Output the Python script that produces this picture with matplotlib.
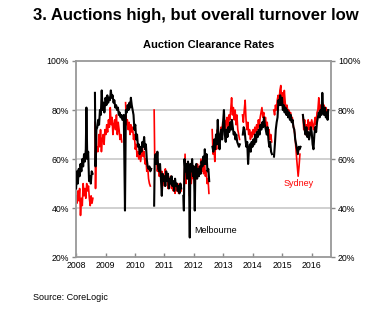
import numpy as np
import matplotlib
matplotlib.use('Agg')
import matplotlib.pyplot as plt

plt.rcParams['font.family'] = ['Liberation Sans', 'DejaVu Sans']

nan = np.nan

# Melbourne weekly clearance rate, NaN = holiday gap
mel_year = [2008.00, 2008.03, 2008.06, 2008.09, 2008.12, 2008.15, 2008.18, 2008.21, 2008.24, 2008.27,
            2008.30, 2008.33, 2008.35, 2008.38, 2008.41, 2008.44, 2008.47, 2008.50, 2008.53, 2008.56,
            2008.60,
            2008.64, 2008.66, 2008.69, 2008.72, 2008.75, 2008.78, 2008.81, 2008.84, 2008.87, 2008.90,
            2008.93, 2008.96, 2009.00, 2009.03, 2009.06, 2009.09, 2009.12, 2009.15, 2009.18, 2009.21,
            2009.24, 2009.27, 2009.30, 2009.33, 2009.36, 2009.39, 2009.42, 2009.45, 2009.48, 2009.51,
            2009.54, 2009.57, 2009.62, 2009.66, 2009.69, 2009.72, 2009.75, 2009.78, 2009.81, 2009.84,
            2009.86, 2009.89, 2009.92, 2009.95, 2009.98, 2010.01, 2010.04, 2010.07, 2010.10, 2010.13,
            2010.16, 2010.19, 2010.22, 2010.25, 2010.28, 2010.31, 2010.34, 2010.37, 2010.40, 2010.43,
            2010.46, 2010.49, 2010.52, 2010.55,
            2010.60,
            2010.65, 2010.67, 2010.70, 2010.73, 2010.76, 2010.79, 2010.82, 2010.85, 2010.88, 2010.91,
            2010.94, 2010.97, 2011.00, 2011.03, 2011.06, 2011.09, 2011.12, 2011.15, 2011.18, 2011.21,
            2011.24, 2011.27, 2011.30, 2011.33, 2011.36, 2011.39, 2011.42, 2011.45, 2011.48, 2011.51,
            2011.54, 2011.57,
            2011.61,
            2011.64, 2011.66, 2011.68, 2011.71, 2011.74, 2011.77, 2011.80, 2011.83, 2011.86, 2011.88,
            2011.91, 2011.94, 2011.97, 2012.00, 2012.03, 2012.05, 2012.08, 2012.11, 2012.14, 2012.17,
            2012.20, 2012.23, 2012.26, 2012.29, 2012.32, 2012.35, 2012.37, 2012.40, 2012.43, 2012.46,
            2012.49, 2012.52,
            2012.58,
            2012.63, 2012.66, 2012.69, 2012.72, 2012.75, 2012.78, 2012.81, 2012.84, 2012.87, 2012.90,
            2012.93, 2012.96, 2012.99, 2013.02, 2013.05, 2013.08, 2013.11, 2013.14, 2013.17, 2013.20,
            2013.23, 2013.26, 2013.29, 2013.32, 2013.35, 2013.38, 2013.41, 2013.44, 2013.47, 2013.50,
            2013.53, 2013.56,
            2013.62,
            2013.66, 2013.69, 2013.72, 2013.75, 2013.78, 2013.81, 2013.84, 2013.87, 2013.90, 2013.93,
            2013.96, 2013.99, 2014.02, 2014.05, 2014.08, 2014.11, 2014.14, 2014.17, 2014.20, 2014.23,
            2014.26, 2014.29, 2014.32, 2014.35, 2014.38, 2014.41, 2014.44, 2014.47, 2014.50, 2014.53,
            2014.56, 2014.59, 2014.62, 2014.65,
            2014.68,
            2014.72, 2014.75, 2014.78, 2014.81, 2014.84, 2014.87, 2014.90, 2014.93, 2014.96, 2014.99,
            2015.02, 2015.05, 2015.08, 2015.11, 2015.14, 2015.17, 2015.20, 2015.23, 2015.26, 2015.29,
            2015.32, 2015.35, 2015.38, 2015.41, 2015.44, 2015.47, 2015.50, 2015.53, 2015.56, 2015.59,
            2015.62,
            2015.66,
            2015.70, 2015.73, 2015.76, 2015.79, 2015.82, 2015.85, 2015.88, 2015.91, 2015.94, 2015.97,
            2016.00, 2016.03, 2016.06, 2016.09, 2016.12, 2016.15, 2016.18, 2016.21, 2016.24, 2016.27,
            2016.30, 2016.33, 2016.36, 2016.39, 2016.42, 2016.45, 2016.48, 2016.51, 2016.54, 2016.56]
mel_rate = [48, 55, 50, 56, 53, 58, 55, 60, 57, 62,
            59, 64, 81, 60, 63, 51, 53, 50, 55, 54,
            nan,
            87, 57, 72, 73, 76, 74, 80, 78, 88, 80,
            83, 79, 85, 82, 86, 83, 85, 84, 88, 85,
            86, 83, 84, 81, 82, 80, 81, 78, 79, 77,
            78, 76, 78, 39, 80, 79, 82, 80, 83, 81,
            85, 82, 80, 78, 72, 74, 68, 70, 65, 66,
            62, 65, 63, 67, 65, 69, 64, 66, 60, 57,
            56, 57, 55, 56,
            nan,
            41, 60, 62, 58, 63, 56, 55, 58, 52, 45,
            54, 51, 53, 49, 55, 51, 54, 48, 52, 50,
            53, 49, 51, 47, 52, 49, 50, 47, 49, 46,
            50, 48,
            nan,
            45, 39, 60, 55, 58, 52, 59, 56, 28, 58,
            55, 60, 53, 57, 39, 55, 58, 52, 56, 53,
            57, 54, 59, 57, 61, 58, 64, 58, 62, 55,
            56, 51,
            nan,
            65, 63, 68, 64, 70, 66, 76, 68, 64, 70,
            72, 68, 75, 80, 70, 67, 72, 69, 73, 71,
            75, 72, 76, 73, 70, 71, 68, 70, 67, 66,
            65, 66,
            nan,
            70, 73, 72, 68, 65, 67, 58, 64, 66, 63,
            67, 65, 68, 66, 70, 67, 71, 69, 72, 70,
            74, 72, 75, 73, 77, 74, 72, 70, 73, 68,
            65, 67, 63, 62,
            nan,
            61, 66, 72, 75, 77, 84, 82, 86, 82, 85,
            80, 82, 79, 81, 78, 80, 77, 79, 76, 78,
            75, 76, 73, 72, 68, 66, 64, 62, 65, 64,
            65,
            nan,
            78, 75, 72, 70, 73, 69, 71, 68, 70, 73,
            71, 66, 64, 70, 73, 71, 75, 77, 79, 77,
            80, 78, 87, 80, 78, 81, 77, 79, 76, 80]

# Sydney weekly clearance rate
syd_year = [2008.00, 2008.03, 2008.06, 2008.09, 2008.12, 2008.15, 2008.18, 2008.21, 2008.24, 2008.27,
            2008.30, 2008.33, 2008.36, 2008.39, 2008.42, 2008.45, 2008.48, 2008.51, 2008.54, 2008.57,
            2008.61,
            2008.64, 2008.66, 2008.68, 2008.71, 2008.74, 2008.77, 2008.80, 2008.83, 2008.86, 2008.89,
            2008.92, 2008.95, 2008.98, 2009.01, 2009.04, 2009.07, 2009.10, 2009.13, 2009.16, 2009.19,
            2009.22, 2009.25, 2009.28, 2009.31, 2009.34, 2009.37, 2009.40, 2009.43, 2009.46, 2009.49,
            2009.52, 2009.55,
            2009.60,
            2009.68, 2009.71, 2009.74, 2009.77, 2009.80, 2009.83, 2009.86, 2009.89, 2009.92, 2009.95,
            2009.98, 2010.01, 2010.04, 2010.07, 2010.10, 2010.13, 2010.16, 2010.19, 2010.22, 2010.25,
            2010.28, 2010.31, 2010.34, 2010.37, 2010.40, 2010.43, 2010.46, 2010.49, 2010.52,
            2010.58,
            2010.65, 2010.67, 2010.70, 2010.73, 2010.76, 2010.79, 2010.82, 2010.85, 2010.88, 2010.91,
            2010.94, 2010.97, 2011.00, 2011.03, 2011.06, 2011.09, 2011.12, 2011.15, 2011.18, 2011.21,
            2011.24, 2011.27, 2011.30, 2011.33, 2011.36, 2011.39, 2011.42, 2011.45, 2011.48, 2011.51,
            2011.54, 2011.57,
            2011.62,
            2011.66, 2011.70, 2011.73, 2011.76, 2011.79, 2011.82, 2011.85, 2011.88, 2011.91, 2011.94,
            2011.97, 2012.00, 2012.03, 2012.06, 2012.09, 2012.12, 2012.15, 2012.18, 2012.21, 2012.24,
            2012.27, 2012.30, 2012.33, 2012.36, 2012.39, 2012.42, 2012.45, 2012.48, 2012.51,
            2012.57,
            2012.62, 2012.65, 2012.68, 2012.71, 2012.74, 2012.77, 2012.80, 2012.83, 2012.86, 2012.89,
            2012.92, 2012.95, 2012.98, 2013.01, 2013.04, 2013.07, 2013.10, 2013.13, 2013.16, 2013.19,
            2013.22, 2013.25, 2013.28, 2013.31, 2013.34, 2013.37, 2013.40, 2013.43, 2013.46, 2013.49,
            2013.52, 2013.55,
            2013.61,
            2013.65, 2013.68, 2013.71, 2013.74, 2013.77, 2013.80, 2013.83, 2013.86, 2013.89, 2013.92,
            2013.95, 2013.98, 2014.01, 2014.04, 2014.07, 2014.10, 2014.13, 2014.16, 2014.19, 2014.22,
            2014.25, 2014.28, 2014.31, 2014.34, 2014.37, 2014.40, 2014.43, 2014.46, 2014.49, 2014.52,
            2014.55, 2014.58, 2014.61, 2014.64,
            2014.68,
            2014.71, 2014.74, 2014.77, 2014.80, 2014.83, 2014.86, 2014.89, 2014.92, 2014.95, 2014.98,
            2015.01, 2015.04, 2015.07, 2015.10, 2015.13, 2015.16, 2015.19, 2015.22, 2015.25, 2015.28,
            2015.31, 2015.34, 2015.37, 2015.40, 2015.43, 2015.46, 2015.49, 2015.52, 2015.54, 2015.57,
            2015.60,
            2015.66,
            2015.70, 2015.73, 2015.76, 2015.79, 2015.82, 2015.85, 2015.88, 2015.91, 2015.94, 2015.97,
            2016.00, 2016.03, 2016.06, 2016.09, 2016.12, 2016.15, 2016.18, 2016.21, 2016.24, 2016.27,
            2016.30, 2016.33, 2016.36, 2016.39, 2016.42, 2016.45, 2016.48, 2016.51, 2016.54, 2016.56]
syd_rate = [45, 42, 47, 43, 48, 37, 44, 41, 50, 45,
            48, 44, 50, 47, 49, 44, 41, 45, 42, 44,
            nan,
            75, 48, 62, 65, 63, 70, 65, 72, 63, 68,
            70, 66, 72, 70, 74, 71, 76, 73, 81, 74,
            77, 70, 74, 76, 72, 78, 70, 75, 72, 68,
            70, 67,
            nan,
            83, 74, 76, 72, 75, 70, 74, 71, 73, 68,
            70, 64, 66, 61, 63, 60, 64, 59, 62, 65,
            61, 63, 58, 60, 55, 57, 52, 50, 49,
            nan,
            80, 60, 58, 61, 55, 58, 53, 56, 52, 55,
            50, 53, 49, 56, 52, 54, 48, 52, 50, 53,
            48, 51, 47, 50, 46, 49, 47, 50, 46, 48,
            50, 47,
            nan,
            45, 62, 50, 56, 52, 57, 45, 58, 50, 56,
            52, 57, 50, 56, 52, 58, 54, 57, 55, 60,
            55, 58, 54, 59, 53, 55, 50, 52, 46,
            nan,
            72, 62, 65, 59, 68, 64, 72, 66, 70, 68,
            73, 70, 75, 72, 76, 70, 75, 77, 73, 78,
            76, 80, 85, 78, 81, 76, 80, 74, 78, 72,
            70, 68,
            nan,
            78, 75, 80, 84, 76, 72, 75, 70, 72, 68,
            71, 69, 72, 70, 73, 71, 74, 72, 76, 73,
            77, 79, 81, 77, 79, 75, 77, 73, 75, 70,
            72, 68, 70, 67,
            nan,
            80, 78, 82, 80, 84, 86, 83, 88, 90, 84,
            87, 82, 88, 83, 80, 82, 79, 80, 77, 79,
            76, 77, 74, 72, 70, 65, 60, 56, 53, 57,
            62,
            nan,
            78, 72, 76, 70, 74, 71, 76, 72, 75, 73,
            76, 74, 72, 75, 77, 74, 79, 80, 85, 79,
            82, 80, 83, 80, 82, 78, 81, 77, 80, 78]

years = list(range(2008, 2017))
yticks = [20, 40, 60, 80, 100]

fig = plt.figure(figsize=(3.73, 3.21), dpi=100)
ax = fig.add_axes([0.204, 0.199, 0.683, 0.611])

grid_c = '#c8c8c8'
for v in [40, 60, 80]:
    ax.axhline(v, color=grid_c, lw=1.2, zorder=0)

ax.plot(syd_year, syd_rate, color='#ff0000', lw=1.2, zorder=2)
ax.plot(mel_year, mel_rate, color='black', lw=1.5, zorder=3)

ax.set_xlim(2008, 2016.65)
ax.set_ylim(20, 100)
ax.set_xticks(years)
ax.set_xticklabels([str(y) for y in years])
ax.set_yticks(yticks)
ax.set_yticklabels(['%d%%' % v for v in yticks])
ax.tick_params(axis='both', labelsize=6.3, colors='#888888', labelcolor='black', length=3, width=1)
ax.tick_params(axis='x', direction='in', pad=3)
ax.tick_params(axis='y', direction='out', pad=2, right=True, labelright=True)

for s in ax.spines.values():
    s.set_color('#999999')
    s.set_linewidth(1.3)

ax.text(2012.0, 31, 'Melbourne', fontsize=6.5, color='black', va='center')
ax.text(2015.05, 50, 'Sydney', fontsize=6.5, color='#ff0000', va='center')

fig.text(0.088, 0.953, '3. Auctions high, but overall turnover low', fontsize=12,
         fontweight='bold', va='center', ha='left')
fig.text(0.559, 0.86, 'Auction Clearance Rates', fontsize=8, fontweight='bold',
         va='center', ha='center')
fig.text(0.088, 0.072, 'Source: CoreLogic', fontsize=6.5, va='center', ha='left')

fig.savefig('out.png', dpi=100)
